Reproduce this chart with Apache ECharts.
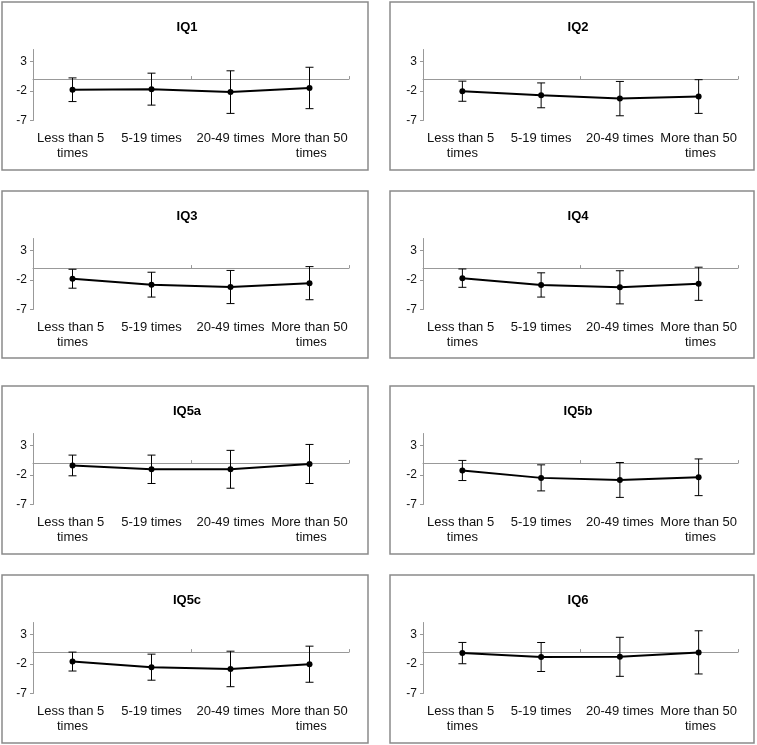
<!DOCTYPE html>
<html>
<head>
<meta charset="utf-8">
<script src="https://cdn.jsdelivr.net/npm/echarts@6/dist/echarts.min.js"></script>
<style>
html,body{margin:0;padding:0;background:#fff;}
#chart{width:757px;height:745px;}
</style>
</head>
<body>
<div id="chart"></div>
<script>
const categories = ['Less than 5 times', '5-19 times', '20-49 times', 'More than 50 times'];
const panelTitles = ['IQ1', 'IQ2', 'IQ3', 'IQ4', 'IQ5a', 'IQ5b', 'IQ5c', 'IQ6'];
const yTicks = [-7, -2, 3];

const iq1Mean = [-1.8, -1.7, -2.2, -1.5];
const iq1Err = [2.0, 2.7, 3.6, 3.5];
const iq2Mean = [-2.05, -2.75, -3.3, -2.95];
const iq2Err = [1.7, 2.1, 2.9, 2.85];
const iq3Mean = [-1.8, -2.8, -3.2, -2.55];
const iq3Err = [1.6, 2.1, 2.8, 2.8];
const iq4Mean = [-1.7, -2.85, -3.25, -2.65];
const iq4Err = [1.55, 2.05, 2.8, 2.8];
const iq5aMean = [-0.4, -1.05, -1.05, -0.15];
const iq5aErr = [1.75, 2.4, 3.2, 3.3];
const iq5bMean = [-1.25, -2.5, -2.85, -2.4];
const iq5bErr = [1.7, 2.2, 2.95, 3.1];
const iq5cMean = [-1.6, -2.55, -2.85, -2.05];
const iq5cErr = [1.6, 2.2, 3.0, 3.05];
const iq6Mean = [-0.17, -0.83, -0.8, -0.05];
const iq6Err = [1.8, 2.45, 3.3, 3.65];

const means = [iq1Mean, iq2Mean, iq3Mean, iq4Mean, iq5aMean, iq5bMean, iq5cMean, iq6Mean];
const errs = [iq1Err, iq2Err, iq3Err, iq4Err, iq5aErr, iq5bErr, iq5cErr, iq6Err];

const FONT = 'Liberation Sans, Arial, sans-serif';
const panelLeft = [2, 390];
const panelRight = [368, 754];
const rowTop = [2, 191, 386, 575];
const rowBottom = [170, 358, 554, 743];
const gridLeft = [33, 423];
const gridWidth = [316, 315];
const titleX = [182, 573];

const chart = echarts.init(document.getElementById('chart'), null, {renderer: 'canvas'});

const grids = [], xAxes = [], yAxes = [], series = [], titles = [], graphics = [];

for (let i = 0; i < 8; i++) {
  const c = i % 2, r = Math.floor(i / 2);
  graphics.push({
    type: 'rect',
    shape: {x: panelLeft[c], y: rowTop[r], width: panelRight[c] - panelLeft[c], height: rowBottom[r] - rowTop[r]},
    style: {fill: 'none', stroke: '#8a8a8a', lineWidth: 1.5},
    silent: true
  });
  titles.push({
    text: panelTitles[i],
    left: titleX[c],
    top: rowTop[r] + 14,
    textAlign: 'center',
    textStyle: {fontFamily: FONT, fontSize: 13, fontWeight: 'bold', color: '#000'}
  });
  grids.push({
    left: gridLeft[c],
    top: rowTop[r] + 47.5,
    width: gridWidth[c],
    height: 71,
    containLabel: false
  });
  // zero-line axis
  xAxes.push({
    type: 'category',
    gridIndex: i,
    data: categories,
    boundaryGap: true,
    axisLine: {show: true, onZero: true, lineStyle: {color: '#999', width: 1}},
    axisTick: {show: true, inside: true, length: 3, lineStyle: {color: '#999'}},
    axisLabel: {show: false},
    splitLine: {show: false}
  });
  // label axis at bottom
  xAxes.push({
    type: 'category',
    gridIndex: i,
    data: categories,
    position: 'bottom',
    boundaryGap: true,
    axisLine: {show: false, onZero: false},
    axisTick: {show: false},
    axisLabel: {
      show: true, interval: 0, margin: 10,
      width: 79, overflow: 'break',
      fontFamily: FONT, fontSize: 13, lineHeight: 15, color: '#111'
    },
    splitLine: {show: false}
  });
  yAxes.push({
    type: 'value',
    gridIndex: i,
    min: -7, max: 5, interval: 5,
    axisLine: {show: true, lineStyle: {color: '#999', width: 1}},
    axisTick: {show: true, length: 3, customValues: yTicks, lineStyle: {color: '#999'}},
    axisLabel: {customValues: yTicks, margin: 6, fontFamily: FONT, fontSize: 12, color: '#111'},
    splitLine: {show: false}
  });
  const m = means[i], e = errs[i];
  series.push({
    type: 'custom',
    xAxisIndex: 2 * i,
    yAxisIndex: i,
    data: m.map((v, k) => [k, v - e[k], v + e[k]]),
    renderItem: function (params, api) {
      const x = api.value(0);
      const lo = api.coord([x, api.value(1)]);
      const hi = api.coord([x, api.value(2)]);
      const cap = 4;
      const st = {stroke: '#000', lineWidth: 1};
      return {
        type: 'group',
        children: [
          {type: 'line', shape: {x1: lo[0], y1: lo[1], x2: hi[0], y2: hi[1]}, style: st},
          {type: 'line', shape: {x1: lo[0] - cap, y1: lo[1], x2: lo[0] + cap, y2: lo[1]}, style: st},
          {type: 'line', shape: {x1: hi[0] - cap, y1: hi[1], x2: hi[0] + cap, y2: hi[1]}, style: st}
        ]
      };
    },
    z: 3,
    silent: true
  });
  series.push({
    type: 'line',
    xAxisIndex: 2 * i,
    yAxisIndex: i,
    data: m,
    symbol: 'circle',
    symbolSize: 6,
    lineStyle: {color: '#000', width: 2},
    itemStyle: {color: '#000'},
    z: 4,
    silent: true,
    animation: false
  });
}

chart.setOption({
  animation: false,
  backgroundColor: '#fff',
  title: titles,
  grid: grids,
  xAxis: xAxes,
  yAxis: yAxes,
  series: series,
  graphic: graphics
});
</script>
</body>
</html>
